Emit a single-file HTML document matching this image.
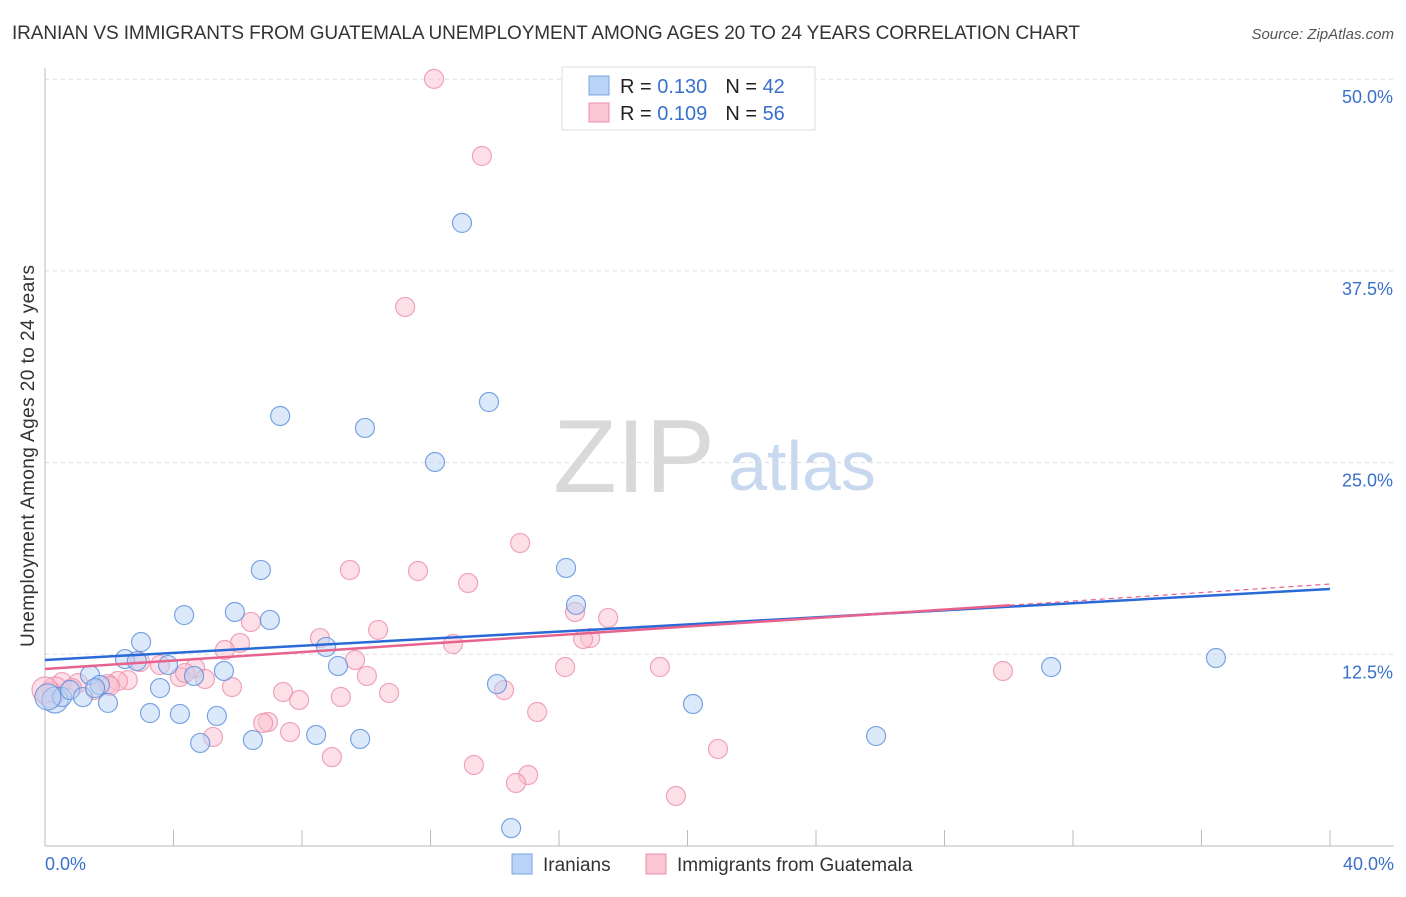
<!DOCTYPE html>
<html><head><meta charset="utf-8"><style>
body{margin:0;background:#fff;font-family:"Liberation Sans",sans-serif;}
svg text{font-family:"Liberation Sans",sans-serif;}
</style></head><body>
<svg id="chart" width="1406" height="892">
<text x="12" y="39" font-size="19" fill="#333" textLength="1068">IRANIAN VS IMMIGRANTS FROM GUATEMALA UNEMPLOYMENT AMONG AGES 20 TO 24 YEARS CORRELATION CHART</text>
<text x="1394" y="39" font-size="15" fill="#555" font-style="italic" text-anchor="end">Source: ZipAtlas.com</text>
<text x="634" y="492" font-size="104" fill="#d9d9d9" font-family="Liberation Serif" text-anchor="middle">ZIP</text>
<text x="802" y="490" font-size="70" fill="#c8d8ee" text-anchor="middle">atlas</text>
<text transform="translate(34,456) rotate(-90)" font-size="19" fill="#333" text-anchor="middle" textLength="382">Unemployment Among Ages 20 to 24 years</text>
<g id="grid"></g><g id="axes"></g><g id="pts"></g><g id="trend"></g>
<g>
<rect x="562" y="67" width="253" height="63" fill="#fff" stroke="#ddd"/>
<rect x="589" y="76" width="20" height="19" fill="#b8d3f5" stroke="#7aa6e0"/>
<rect x="589" y="103" width="20" height="19" fill="#fbc6d4" stroke="#eb8fab"/>
<text x="620" y="93" font-size="20" fill="#222">R = <tspan fill="#3a70cc">0.130</tspan><tspan dx="18">N = </tspan><tspan fill="#3a70cc">42</tspan></text>
<text x="620" y="120" font-size="20" fill="#222">R = <tspan fill="#3a70cc">0.109</tspan><tspan dx="18">N = </tspan><tspan fill="#3a70cc">56</tspan></text>
</g>
<g>
<rect x="512" y="854" width="20" height="20" fill="#b8d3f5" stroke="#7aa6e0"/>
<text x="543" y="871" font-size="19" fill="#333">Iranians</text>
<rect x="646" y="854" width="20" height="20" fill="#fbc6d4" stroke="#eb8fab"/>
<text x="677" y="871" font-size="19" fill="#333">Immigrants from Guatemala</text>
</g>
</svg>
<script>
const blueX=[0.31,0.53,0.78,1.18,1.40,1.71,1.96,2.49,2.86,2.99,3.27,3.58,3.83,4.20,4.33,4.64,4.83,5.35,5.57,5.91,6.47,6.72,7.00,7.32,8.44,8.75,9.12,9.81,9.96,12.14,12.98,13.82,14.07,14.51,16.22,16.53,20.17,25.87,31.32,36.45,0.09,1.56];
const blueY=[9.52,9.71,10.17,9.71,11.15,10.50,9.33,12.19,12.06,13.30,8.67,10.30,11.80,8.61,15.06,11.09,6.72,8.48,11.41,15.26,6.91,18.00,14.74,28.04,7.24,12.98,11.74,6.98,27.26,25.04,40.63,28.95,10.56,1.17,18.13,15.72,9.26,7.17,11.67,12.26,9.72,10.30];
const pinkX=[12.11,13.60,11.21,14.79,9.49,11.61,13.17,16.50,17.53,10.37,8.56,16.97,16.75,6.07,5.60,12.70,6.41,9.65,16.19,19.14,29.82,10.02,2.96,3.58,4.67,4.20,4.36,4.98,5.82,2.58,2.27,1.96,1.03,0.53,0.31,0.16,7.41,7.91,9.21,10.71,14.29,15.32,6.94,6.79,7.63,5.23,8.93,13.35,15.04,14.66,19.64,20.95,2.02,0.84,1.56,0];
const pinkY=[50.02,44.99,35.15,19.76,18.00,17.93,17.15,15.26,14.87,14.09,13.56,13.56,13.50,13.24,12.78,13.17,14.61,12.13,11.67,11.67,11.41,11.09,12.00,11.80,11.61,11.02,11.28,10.89,10.37,10.82,10.76,10.56,10.63,10.69,10.17,9.85,10.04,9.52,9.72,9.98,10.17,8.74,8.09,8.02,7.43,7.11,5.80,5.28,4.63,4.11,3.26,6.33,10.43,10.30,10.17,10.17];
const yTicks=[12.5,25,37.5,50];
const yTickLabels=["12.5%","25.0%","37.5%","50.0%"];
const blueTrend=[12.13,16.76];
const pinkTrend=[11.54,17.08];
const X=v=>45+v/40*1285, Y=v=>846-v/12.5*191.7;
const NS="http://www.w3.org/2000/svg";
function mk(p,t,a){const e=document.createElementNS(NS,t);for(const k in a)e.setAttribute(k,a[k]);document.getElementById(p).appendChild(e);return e;}
yTicks.forEach((t,i)=>{
 const g=mk('grid','line',{x1:45,x2:1394,y1:Y(t),y2:Y(t),stroke:'#ddd','stroke-dasharray':'4,4'});
 
 
 const l=mk('grid','text',{x:1393,y:Y(t)+24,'font-size':18,fill:'#3a70cc','text-anchor':'end'});
 l.textContent=yTickLabels[i];
 
 
});
const ax=mk('axes','line',{x1:45,x2:45,y1:68,y2:846,stroke:'#bbb'});


const bx=mk('axes','line',{x1:45,x2:1394,y1:846,y2:846,stroke:'#bbb'});


for(let i=1;i<=10;i++){const t=mk('axes','line',{x1:X(i*4),x2:X(i*4),y1:830,y2:846,stroke:'#bbb'});
 
 }
[[0,"0.0%",'start',45],[40,"40.0%",'end',1394]].forEach(d=>{const t=mk('axes','text',{x:d[3],y:870,'font-size':18,fill:'#3a70cc','text-anchor':d[2]});t.textContent=d[1];
 
 });
function pts(xs,ys,f,s,name){xs.forEach((x,i)=>{const r=x<0.4?13:9.5;const c=mk('pts','circle',{cx:X(x),cy:Y(ys[i]),r:r,fill:f,'fill-opacity':0.5,stroke:s,'stroke-opacity':0.8,'stroke-width':1.2});
 
 });}
pts(pinkX,pinkY,'#f9c0d0','#ec8fab','point-guatemala');
pts(blueX,blueY,'#b8d3f5','#5b8fdb','point-iranians');
const bl=mk('trend','line',{x1:X(0),y1:Y(blueTrend[0]),x2:X(40),y2:Y(blueTrend[1]),stroke:'#2a6ad6','stroke-width':2.5});


const f=(1010-45)/1285, pm=pinkTrend[0]+(pinkTrend[1]-pinkTrend[0])*f;
const pl=mk('trend','line',{x1:X(0),y1:Y(pinkTrend[0]),x2:X(40*f),y2:Y(pm),stroke:'#e8628e','stroke-width':2.5});


const pd=mk('trend','line',{x1:X(40*f),y1:Y(pm),x2:X(40),y2:Y(pinkTrend[1]),stroke:'#e8628e','stroke-width':1.2,'stroke-dasharray':'5,4'});


</script>
</body></html>
